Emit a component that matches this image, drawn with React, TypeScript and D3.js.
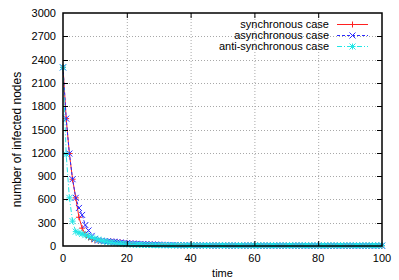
import * as d3 from 'd3'
import React, { useEffect, useRef } from 'react'

// time steps 0..100
const times: number[] = d3.range(0, 101)

const syncValues: number[] = [
  2300, 1640, 1190, 860, 620, 370, 230, 150, 110, 85,
  75, 70, 65, 62, 60, 57, 54, 50, 45, 40,
  35, 32, 30, 28, 26, 25, 24, 22, 20, 18,
  16, 15, 14, 13, 12, 12, 11, 10, 10, 9,
  9, 8, 8, 8, 7, 7, 7, 6, 6, 6,
  6, 6, 5, 5, 5, 5, 5, 5, 5, 5,
  4, 4, 4, 4, 4, 4, 4, 4, 4, 4,
  4, 4, 4, 4, 4, 3, 3, 3, 3, 3,
  3, 3, 3, 3, 3, 3, 3, 3, 3, 3,
  3, 3, 3, 3, 3, 3, 3, 3, 3, 3,
  3,
]

const asyncValues: number[] = [
  2300, 1640, 1190, 860, 620, 490, 400, 270, 200, 130,
  90, 72, 66, 63, 60, 58, 55, 50, 45, 40,
  36, 33, 30, 28, 26, 24, 22, 20, 18, 17,
  16, 15, 14, 13, 12, 12, 11, 10, 10, 9,
  9, 8, 8, 8, 7, 7, 7, 6, 6, 6,
  6, 6, 5, 5, 5, 5, 5, 5, 5, 5,
  5, 4, 4, 4, 4, 4, 4, 4, 4, 4,
  4, 4, 4, 4, 4, 4, 3, 3, 3, 3,
  3, 3, 3, 3, 3, 3, 3, 3, 3, 3,
  3, 3, 3, 3, 3, 3, 3, 3, 3, 3,
  3,
]

const antiValues: number[] = [
  2300, 1180, 620, 320, 185, 170, 155, 140, 125, 110,
  95, 82, 70, 60, 52, 45, 40, 35, 30, 26,
  23, 21, 19, 17, 16, 15, 14, 13, 12, 11,
  11, 10, 10, 10, 9, 9, 9, 9, 8, 8,
  8, 8, 8, 7, 7, 7, 7, 7, 7, 7,
  7, 7, 6, 6, 6, 6, 6, 6, 6, 6,
  6, 6, 6, 6, 6, 6, 6, 6, 6, 6,
  6, 6, 6, 6, 6, 6, 6, 6, 6, 6,
  6, 6, 6, 6, 6, 6, 6, 6, 6, 6,
  6, 6, 6, 6, 6, 6, 6, 6, 6, 6,
  6,
]

const xTicks: number[] = [0, 20, 40, 60, 80, 100]
const yTicks: number[] = [0, 300, 600, 900, 1200, 1500, 1800, 2100, 2400, 2700, 3000]

const seriesNames: string[] = ['synchronous case', 'asynchronous case', 'anti-synchronous case']

const width = 399
const height = 280
const margin = { top: 13, right: 17, bottom: 34, left: 63 }

type Marker = 'plus' | 'cross' | 'star'

const markerPath = (kind: Marker, x: number, y: number, s: number) => {
  const plus = `M${x - s},${y}H${x + s}M${x},${y - s}V${y + s}`
  const cross = `M${x - s},${y - s}L${x + s},${y + s}M${x - s},${y + s}L${x + s},${y - s}`
  if (kind === 'plus') return plus
  if (kind === 'cross') return cross
  return plus + cross
}

const App: React.FC = () => {
  const svgRef = useRef<SVGSVGElement>(null)

  useEffect(() => {
    if (!svgRef.current) return
    const svg = d3.select(svgRef.current)
    svg.selectAll('*').remove()

    const font = '"Liberation Sans", Arial, Helvetica, sans-serif'
    const x = d3.scaleLinear().domain([0, 100]).range([margin.left, width - margin.right])
    const y = d3.scaleLinear().domain([0, 3000]).range([height - margin.bottom, margin.top])
    const [x0, x1] = x.range()
    const [y0, y1] = y.range()

    // grid
    const grid = svg.append('g').attr('stroke', '#a8a8a8').attr('stroke-width', 1).attr('stroke-dasharray', '1,2')
    xTicks.slice(1, -1).forEach(t => {
      grid.append('line').attr('x1', x(t) + 0.5).attr('x2', x(t) + 0.5).attr('y1', y1).attr('y2', y0)
    })
    yTicks.slice(1, -1).forEach(t => {
      grid.append('line').attr('x1', x0).attr('x2', x1).attr('y1', Math.round(y(t)) + 0.5).attr('y2', Math.round(y(t)) + 0.5)
    })

    // series, drawn in order so the last one ends up on top
    const series = [
      { name: seriesNames[0], values: syncValues, color: '#ff2020', dash: null as string | null, marker: 'plus' as Marker },
      { name: seriesNames[1], values: asyncValues, color: '#2a2aff', dash: '3,2', marker: 'cross' as Marker },
      { name: seriesNames[2], values: antiValues, color: '#20e6e6', dash: '5,2,1,2', marker: 'star' as Marker },
    ]

    const line = d3
      .line<number>()
      .x((_, i) => x(times[i]))
      .y(d => y(d))

    series.forEach(s => {
      const g = svg.append('g')
      g.append('path')
        .attr('d', line(s.values))
        .attr('fill', 'none')
        .attr('stroke', s.color)
        .attr('stroke-width', 1)
        .attr('stroke-dasharray', s.dash)
      g.append('path')
        .attr('d', s.values.map((v, i) => markerPath(s.marker, x(times[i]), y(v), 3)).join(''))
        .attr('fill', 'none')
        .attr('stroke', s.color)
        .attr('stroke-width', 1)
    })

    // border
    svg.append('rect')
      .attr('x', x0)
      .attr('y', y1)
      .attr('width', x1 - x0)
      .attr('height', y0 - y1)
      .attr('fill', 'none')
      .attr('stroke', '#000')
      .attr('stroke-width', 1.5)

    // ticks (inward, mirrored)
    const ticks = svg.append('g').attr('stroke', '#000').attr('stroke-width', 1)
    xTicks.slice(1, -1).forEach(t => {
      ticks.append('line').attr('x1', x(t) + 0.5).attr('x2', x(t) + 0.5).attr('y1', y0).attr('y2', y0 - 5)
      ticks.append('line').attr('x1', x(t) + 0.5).attr('x2', x(t) + 0.5).attr('y1', y1).attr('y2', y1 + 5)
    })
    yTicks.slice(1, -1).forEach(t => {
      const yy = Math.round(y(t)) + 0.5
      ticks.append('line').attr('x1', x0).attr('x2', x0 + 5).attr('y1', yy).attr('y2', yy)
      ticks.append('line').attr('x1', x1).attr('x2', x1 - 5).attr('y1', yy).attr('y2', yy)
    })

    // tick labels
    const labels = svg.append('g').style('font-family', font).style('font-size', '11px').attr('fill', '#000')
    xTicks.forEach(t => {
      labels.append('text').attr('x', x(t)).attr('y', y0 + 16).attr('text-anchor', 'middle').text(String(t))
    })
    yTicks.forEach(t => {
      labels.append('text').attr('x', x0 - 7).attr('y', y(t) + 4).attr('text-anchor', 'end').text(String(t))
    })

    // axis titles
    svg.append('text')
      .attr('x', (x0 + x1) / 2)
      .attr('y', height - 3)
      .attr('text-anchor', 'middle')
      .style('font-family', font)
      .style('font-size', '11px')
      .text('time')
    svg.append('text')
      .attr('transform', `translate(21, ${(y0 + y1) / 2 + 10}) rotate(-90)`)
      .attr('text-anchor', 'middle')
      .style('font-family', font)
      .style('font-size', '12px')
      .text('number of infected nodes')

    // legend
    const legend = svg.append('g')
    series.forEach((s, i) => {
      const ly = 24 + i * 11
      legend.append('text')
        .attr('x', 329)
        .attr('y', ly + 4)
        .attr('text-anchor', 'end')
        .style('font-family', font)
        .style('font-size', '11px')
        .text(s.name)
      legend.append('line')
        .attr('x1', 337).attr('x2', 368).attr('y1', ly + 0.5).attr('y2', ly + 0.5)
        .attr('stroke', s.color).attr('stroke-width', 1).attr('stroke-dasharray', s.dash)
      legend.append('path')
        .attr('d', markerPath(s.marker, 352.5, ly + 0.5, 3))
        .attr('fill', 'none').attr('stroke', s.color).attr('stroke-width', 1)
    })
  }, [])

  return (
    <div style={{ position: 'absolute', left: 0, top: 0 }}>
      <svg ref={svgRef} width={width} height={height} style={{ display: 'block', background: '#fff' }} />
    </div>
  )
}

export default App
